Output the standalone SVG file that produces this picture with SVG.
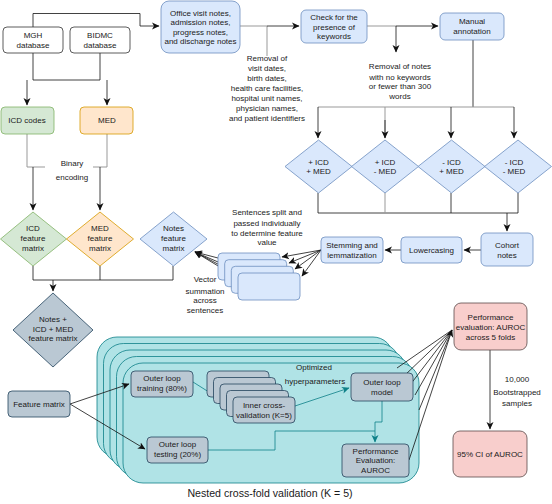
<svg xmlns="http://www.w3.org/2000/svg" width="552" height="504" viewBox="0 0 552 504">
<defs>
<style>
text{font-family:"Liberation Sans",Arial,sans-serif;font-size:8px;fill:#1a1a1a;text-anchor:middle}
.w{fill:#fff;stroke:#333;stroke-width:0.8}
.b{fill:#dae8fc;stroke:#6c8ebf;stroke-width:0.8}
.g{fill:#d5e8d4;stroke:#82b366;stroke-width:0.8}
.o{fill:#ffe6cc;stroke:#d79b00;stroke-width:0.8}
.s{fill:#bac8d3;stroke:#23445d;stroke-width:0.8}
.t{fill:#b0e3e6;stroke:#0e8088;stroke-width:0.8}
.p{fill:#f8cecc;stroke:#5a4a4a;stroke-width:0.8}
.k{fill:none;stroke:#111;stroke-width:0.8}
.gr{fill:none;stroke:#999;stroke-width:1}
.tl{fill:none;stroke:#0e8088;stroke-width:0.8}
</style>
<marker id="a" markerUnits="userSpaceOnUse" markerWidth="8" markerHeight="8" viewBox="0 0 8 8" refX="7" refY="4" orient="auto"><path d="M0,0.5 L7.5,4 L0,7.5 L2,4 z" fill="#111"/></marker>
<marker id="at" markerUnits="userSpaceOnUse" markerWidth="8" markerHeight="8" viewBox="0 0 8 8" refX="7" refY="4" orient="auto"><path d="M0,0.5 L7.5,4 L0,7.5 L2,4 z" fill="#0e8088"/></marker>
</defs>
<rect width="552" height="504" fill="#fff"/>

<g id="connectors">
<path class="k" d="M33,27 V13.5 H140 V26 H159" marker-end="url(#a)"/>
<path class="k" d="M33,53 V80 H100 V53"/>
<path class="k" d="M27,80 V105" marker-end="url(#a)"/>
<path class="k" d="M107,80 V105" marker-end="url(#a)"/>
<path class="gr" d="M27,134 V167 H45"/>
<path class="k" d="M33,167 V210" marker-end="url(#a)"/>
<path class="gr" d="M107,134 V167 H93"/>
<path class="k" d="M100,167 V210" marker-end="url(#a)"/>
<path class="gr" d="M240,26 H267 V56"/>
<path class="k" d="M267,26 H299" marker-end="url(#a)"/>
<path class="gr" d="M367,26 H396"/>
<path class="k" d="M396,26 H438" marker-end="url(#a)"/>
<path class="k" d="M396,26 V52" marker-end="url(#a)"/>
<path class="k" d="M473,40 V107"/>
<path class="gr" d="M318,107 H514"/>
<path class="k" d="M318,107 V138" marker-end="url(#a)"/>
<path class="gr" d="M385,107 V138"/>
<path class="k" d="M385,120 V138" marker-end="url(#a)"/>
<path class="k" d="M451,107 V138" marker-end="url(#a)"/>
<path class="k" d="M514,107 V138" marker-end="url(#a)"/>
<path class="k" d="M318,193 V213 H518 V193"/>
<path class="gr" d="M385,193 V213"/>
<path class="k" d="M451,193 V213"/>
<path class="k" d="M507,213 V231" marker-end="url(#a)"/>
<path class="k" d="M481,250 H464" marker-end="url(#a)"/>
<path class="k" d="M401,250 H385" marker-end="url(#a)"/>
<path class="k" d="M321,250 L282,257" marker-end="url(#a)"/>
<path class="k" d="M321,250 L289,263" marker-end="url(#a)"/>
<path class="k" d="M321,250 L295,269" marker-end="url(#a)"/>
<path class="k" d="M321,250 L302,276" marker-end="url(#a)"/>
<path class="k" d="M218,258 L195,252" marker-end="url(#a)"/>
<path class="k" d="M225,265 L195,252" marker-end="url(#a)"/>
<path class="k" d="M231,271 L195,252" marker-end="url(#a)"/>
<path class="k" d="M238,278 L195,252" marker-end="url(#a)"/>
<path class="k" d="M33,266 V280 H173 V266"/>
<path class="k" d="M100,266 V280"/>
<path class="k" d="M53,280 V291" marker-end="url(#a)"/>
</g>

<g id="n-mgh"><rect class="w" x="3" y="27" width="60" height="26" rx="4"/><text x="33" y="37.5">MGH</text><text x="33" y="47.5">database</text></g>
<g id="n-bidmc"><rect class="w" x="70" y="27" width="60" height="26" rx="4"/><text x="100" y="37.5">BIDMC</text><text x="100" y="47.5">database</text></g>
<g id="n-office"><rect class="b" x="161" y="1" width="79" height="52" rx="8"/><text x="200.5" y="15.5">Office visit notes,</text><text x="200.5" y="25">admission notes,</text><text x="200.5" y="34.5">progress notes,</text><text x="200.5" y="44">and discharge notes</text></g>
<g id="n-check"><rect class="b" x="301" y="10" width="66" height="33" rx="5"/><text x="334" y="20">Check for the</text><text x="334" y="29.5">presence of</text><text x="334" y="39">keywords</text></g>
<g id="n-manual"><rect class="b" x="440" y="13" width="64" height="27" rx="5"/><text x="472" y="24">Manual</text><text x="472" y="34">annotation</text></g>
<g id="l-removal1"><text x="267" y="61">Removal of</text><text x="267" y="71">visit dates,</text><text x="267" y="81">birth dates,</text><text x="267" y="91">health care facilities,</text><text x="267" y="101">hospital unit names,</text><text x="267" y="111">physician names,</text><text x="267" y="121">and patient identifiers</text></g>
<g id="l-removal2"><text x="400" y="69">Removal of notes</text><text x="400" y="79.5">with no keywords</text><text x="400" y="89">or fewer than 300</text><text x="400" y="98.5">words</text></g>
<g id="n-icdcodes"><rect class="g" x="1" y="107" width="53" height="27" rx="4"/><text x="27" y="123">ICD codes</text></g>
<g id="n-med"><rect class="o" x="80" y="107" width="53" height="27" rx="4"/><text x="107" y="123">MED</text></g>
<g id="l-binary"><text x="72" y="166">Binary</text><text x="72" y="180">encoding</text></g>
<g id="n-d1"><polygon class="b" points="318.5,140 352,166.5 318.5,193 285,166.5"/><text x="318.5" y="164.5">+ ICD</text><text x="318.5" y="174">+ MED</text></g>
<g id="n-d2"><polygon class="b" points="385,140 418.5,166.5 385,193 351.5,166.5"/><text x="385" y="164.5">+ ICD</text><text x="385" y="174">- MED</text></g>
<g id="n-d3"><polygon class="b" points="451.5,140 485,166.5 451.5,193 418,166.5"/><text x="451.5" y="164.5">- ICD</text><text x="451.5" y="174">+ MED</text></g>
<g id="n-d4"><polygon class="b" points="518,140 551.5,166.5 518,193 484.5,166.5"/><text x="514" y="164.5">- ICD</text><text x="514" y="174">- MED</text></g>
<g id="n-icdfm"><polygon class="g" points="33,212 66.5,239 33,266 0.5,239"/><text x="33" y="231">ICD</text><text x="33" y="241">feature</text><text x="33" y="251">matrix</text></g>
<g id="n-medfm"><polygon class="o" points="100,212 133.5,239 100,266 66.5,239"/><text x="100" y="231">MED</text><text x="100" y="241">feature</text><text x="100" y="251">matrix</text></g>
<g id="n-notesfm"><polygon class="b" points="173.5,212 207,239 173.5,266 140,239"/><text x="173.5" y="231">Notes</text><text x="173.5" y="241">feature</text><text x="173.5" y="251">matrix</text></g>
<g id="n-cohort"><rect class="b" x="481" y="233" width="52" height="33" rx="5"/><text x="507" y="248">Cohort</text><text x="507" y="258">notes</text></g>
<g id="n-lower"><rect class="b" x="401" y="237" width="61" height="26" rx="4"/><text x="431.5" y="253">Lowercasing</text></g>
<g id="n-stem"><rect class="b" x="321" y="237" width="62" height="26" rx="4"/><text x="352" y="248">Stemming and</text><text x="352" y="258">lemmatization</text></g>
<g id="l-sentences"><text x="267" y="215">Sentences split and</text><text x="267" y="226">passed individually</text><text x="267" y="235.5">to determine feature</text><text x="267" y="245">value</text></g>
<g id="n-sent"><rect class="b" x="218" y="253" width="62" height="27" rx="4"/><rect class="b" x="224.7" y="259.7" width="62" height="27" rx="4"/><rect class="b" x="231.3" y="266.3" width="62" height="27" rx="4"/><rect class="b" x="238" y="273" width="62" height="27" rx="4"/></g>
<g id="l-vector"><text x="205" y="282">Vector</text><text x="205" y="294">summation</text><text x="205" y="303">across</text><text x="205" y="312.5">sentences</text></g>
<g id="n-combined"><polygon class="s" points="53,293 93,330 53,367 13,330"/><text x="53" y="322">Notes +</text><text x="53" y="331.5">ICD + MED</text><text x="53" y="341">feature matrix</text></g>

<g id="n-nested"><rect class="t" x="97" y="337" width="296" height="120" rx="20"/><rect class="t" x="103.5" y="343.5" width="296" height="120" rx="20"/><rect class="t" x="110" y="350" width="296" height="120" rx="20"/><rect class="t" x="116.5" y="356.5" width="296" height="120" rx="20"/><rect class="t" x="123" y="363" width="296" height="120" rx="20"/></g>
<g id="l-nested"><text x="270" y="497" style="font-size:10.6px">Nested cross-fold validation (K = 5)</text></g>

<g id="conn2">
<path class="k" d="M70,404 L129,384" marker-end="url(#a)"/>
<path class="k" d="M70,404 L145,449" marker-end="url(#a)"/>
<path class="tl" d="M193,382 L231,406" marker-end="url(#at)"/>
<path class="tl" d="M295,406 L349,388" marker-end="url(#at)"/>
<path class="tl" d="M382,401 V422 H375 V442" marker-end="url(#at)"/>
<path class="tl" d="M208,450 H275 V431 H375"/>
<path class="k" d="M409,460 L452,330" marker-end="url(#a)"/>
<path class="k" d="M419,410 L452,330"/>
<path class="k" d="M415,395 L452,330"/>
<path class="k" d="M410,385 L452,330"/>
<path class="k" d="M404,376 L452,330"/>
<path class="k" d="M397,368 L452,330"/>
<path class="k" d="M490,350 V429" marker-end="url(#a)"/>
</g>

<g id="n-fm"><rect class="s" x="8" y="391" width="62" height="26" rx="4"/><text x="39" y="407">Feature matrix</text></g>
<g id="n-olt"><rect class="s" x="131" y="371" width="62" height="26" rx="4"/><text x="162" y="381">Outer loop</text><text x="162" y="391">training (80%)</text></g>
<g id="n-olte"><rect class="s" x="147" y="437" width="61" height="26" rx="4"/><text x="177.5" y="447">Outer loop</text><text x="177.5" y="457">testing (20%)</text></g>
<g id="n-inner"><rect class="s" x="207" y="371" width="62" height="26" rx="4"/><rect class="s" x="213.5" y="377.5" width="62" height="26" rx="4"/><rect class="s" x="220" y="384" width="62" height="26" rx="4"/><rect class="s" x="226.5" y="390.5" width="62" height="26" rx="4"/><rect class="s" x="233" y="397" width="62" height="26" rx="4"/><text x="264" y="407.5">Inner cross-</text><text x="264" y="417.5">validation (K=5)</text></g>
<g id="l-opt"><text x="314" y="369.5">Optimized</text><text x="315" y="383.5">hyperparameters</text></g>
<g id="n-olm"><rect class="s" x="351" y="373" width="62" height="28" rx="4"/><text x="382" y="384.5">Outer loop</text><text x="382" y="394.5">model</text></g>
<g id="n-pe"><rect class="s" x="342" y="444" width="67" height="33" rx="4"/><text x="375.5" y="453.5">Performance</text><text x="375.5" y="463">Evaluation:</text><text x="375.5" y="472.5">AUROC</text></g>
<g id="n-auroc"><rect class="p" x="454" y="303" width="73" height="47" rx="7"/><text x="490.5" y="320">Performance</text><text x="490.5" y="330">evaluation: AUROC</text><text x="490.5" y="340">across 5 folds</text></g>
<g id="l-boot"><text x="517" y="382">10,000</text><text x="517" y="394.5">Bootstrapped</text><text x="517" y="406">samples</text></g>
<g id="n-ci"><rect class="p" x="453" y="431" width="74" height="46" rx="7"/><text x="490" y="457">95% CI of AUROC</text></g>
</svg>
